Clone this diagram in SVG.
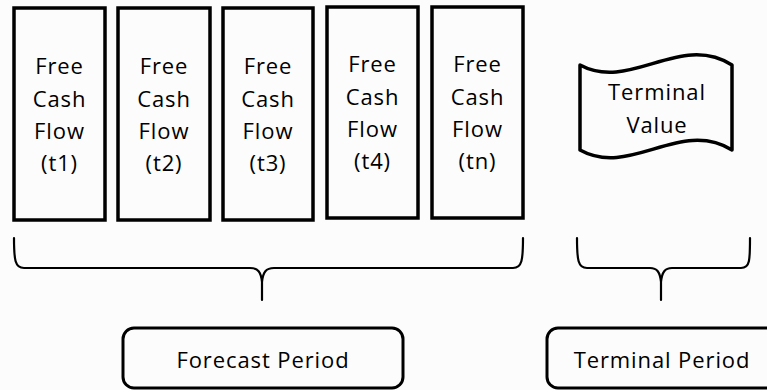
<svg xmlns="http://www.w3.org/2000/svg" width="767" height="390" viewBox="0 0 767 390">
<style>
.bg{fill:#fcfcfc}
.box{fill:#fcfcfc;stroke:#000;stroke-width:3.5}
.pill{fill:#fcfcfc;stroke:#000;stroke-width:3}
.t{font-family:"Open Sans","Liberation Sans",sans-serif;font-size:22px;letter-spacing:0.9px;fill:#000;text-anchor:middle}
.br{fill:none;stroke:#000;stroke-width:2.2;stroke-linejoin:round;stroke-linecap:round}
</style>
<rect class="bg" x="0" y="0" width="767" height="390"/>
<g id="fcf1"><rect class="box" x="14" y="8" width="91" height="212"/>
<text class="t" x="59.5" y="74">Free</text><text class="t" x="59.5" y="107">Cash</text><text class="t" x="59.5" y="139">Flow</text><text class="t" x="59.5" y="171">(t1)</text></g>
<g id="fcf2"><rect class="box" x="118" y="8" width="92" height="212"/>
<text class="t" x="164" y="74">Free</text><text class="t" x="164" y="107">Cash</text><text class="t" x="164" y="139">Flow</text><text class="t" x="164" y="171">(t2)</text></g>
<g id="fcf3"><rect class="box" x="223" y="8" width="90" height="212"/>
<text class="t" x="268" y="74">Free</text><text class="t" x="268" y="107">Cash</text><text class="t" x="268" y="139">Flow</text><text class="t" x="268" y="171">(t3)</text></g>
<g id="fcf4"><rect class="box" x="327" y="7" width="91" height="211"/>
<text class="t" x="372.5" y="72">Free</text><text class="t" x="372.5" y="105">Cash</text><text class="t" x="372.5" y="137">Flow</text><text class="t" x="372.5" y="169">(t4)</text></g>
<g id="fcfn"><rect class="box" x="432" y="7" width="91" height="211"/>
<text class="t" x="477.5" y="72">Free</text><text class="t" x="477.5" y="105">Cash</text><text class="t" x="477.5" y="137">Flow</text><text class="t" x="477.5" y="169">(tn)</text></g>
<g id="terminal-value">
<path class="box" stroke-width="3" stroke-linejoin="round" d="M580,65 C630,92 680,32 732,65 L732,150 C680,118 630,178 580,150 Z"/>
<text class="t" x="657" y="100">Terminal</text><text class="t" x="657" y="133">Value</text></g>
<g id="connectors">
<path class="br" d="M14,238 C14,260 15,268 24,268 L250,268 C258,268 261,272 262,282 L262,300 M262,282 C263,272 266,268 274,268 L513,268 C522,268 523,260 523,238"/>
<path class="br" d="M577,238 C577,260 578,268 587,268 L650,268 C657,268 660,272 661,282 L661,300 M661,282 C662,272 665,268 672,268 L741,268 C750,268 750,260 750,238"/>
</g>
<g id="forecast-period"><rect class="pill" x="123" y="328" width="280" height="60" rx="11"/>
<text class="t" x="263" y="368">Forecast Period</text></g>
<g id="terminal-period"><rect class="pill" x="547" y="328" width="232" height="60" rx="11"/>
<text class="t" x="662" y="368">Terminal Period</text></g>
</svg>
